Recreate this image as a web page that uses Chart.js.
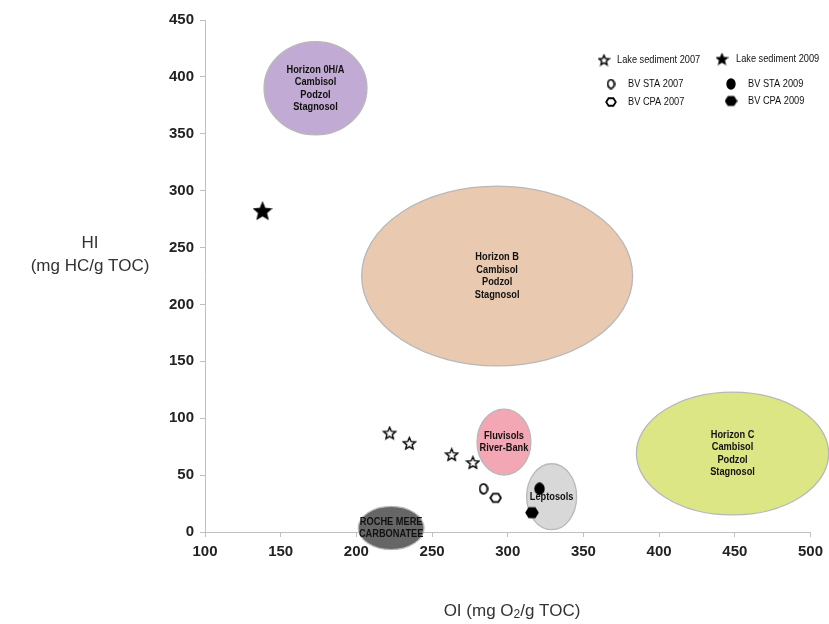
<!DOCTYPE html>
<html>
<head>
<meta charset="utf-8">
<script src="https://cdn.jsdelivr.net/npm/chart.js@4.4.1/dist/chart.umd.min.js"></script>
<style>
  html, body { margin: 0; padding: 0; background: #fff; }
  #wrap { width: 829px; height: 624px; }
</style>
</head>
<body>
<div id="wrap"><canvas id="chart" width="829" height="624"></canvas></div>
<script>
// tick values
const xTicks = [100, 150, 200, 250, 300, 350, 400, 450, 500];
const yTicks = [0, 50, 100, 150, 200, 250, 300, 350, 400, 450];

// samples (OI, HI)
const lakeSed2007 = [[222, 87], [235, 78], [263, 68], [277, 61]];
const lakeSed2009 = [[138, 282]];
const bvSta2007 = [[284, 38]];
const bvCpa2007 = [[292, 30]];
const bvSta2009 = [[321, 38]];
const bvCpa2009 = [[316, 17]];

// reference zones: centre and half-widths in data units
const zoneLabels = [
  ["Horizon B", "Cambisol", "Podzol", "Stagnosol"],
  ["Horizon 0H/A", "Cambisol", "Podzol", "Stagnosol"],
  ["Horizon C", "Cambisol", "Podzol", "Stagnosol"],
  ["Fluvisols", "River-Bank"],
  ["Leptosols"],
  ["ROCHE MERE", "CARBONATEE"]
];
const zoneCx = [293, 173, 448.5, 297.5, 329, 223];
const zoneCy = [225, 390, 69, 79, 31, 3.5];
const zoneRx = [89.5, 34, 63.5, 17.8, 16.5, 21.7];
const zoneRy = [79, 41, 54, 29, 29, 19];
const zoneFill = ["#e9c9b0", "#c1aad3", "#dde685", "#f3a6b3", "#d8d8d8", "#666666"];

const legendNames = ["Lake sediment 2007", "Lake sediment 2009", "BV STA 2007", "BV STA 2009", "BV CPA 2007", "BV CPA 2009"];

function toPts(arr) {
  return arr.map((p) => ({ x: p[0], y: p[1] }));
}

// marker images
function starImg(filled, size) {
  const c = document.createElement("canvas");
  c.width = size; c.height = size;
  const g = c.getContext("2d");
  const r = size / 2 - 1.2, ri = r * 0.45, cx = size / 2, cy = size / 2 + 0.5;
  g.beginPath();
  for (let i = 0; i < 10; i++) {
    const rr = i % 2 === 0 ? r : ri;
    const a = -Math.PI / 2 + i * Math.PI / 5;
    g.lineTo(cx + rr * Math.cos(a), cy + rr * Math.sin(a));
  }
  g.closePath();
  g.fillStyle = filled ? "#000" : "#fff";
  g.fill();
  g.lineWidth = 1.4;
  g.strokeStyle = "#000";
  g.lineJoin = "miter";
  g.stroke();
  return c;
}
function ovalImg(filled, w, h) {
  const c = document.createElement("canvas");
  c.width = w; c.height = h;
  const g = c.getContext("2d");
  g.beginPath();
  g.ellipse(w / 2, h / 2, w / 2 - 1.2, h / 2 - 1.2, 0, 0, Math.PI * 2);
  g.fillStyle = filled ? "#000" : "#fff";
  g.fill();
  g.lineWidth = 1.8;
  g.strokeStyle = "#000";
  g.stroke();
  return c;
}
function hexImg(filled, size) {
  const c = document.createElement("canvas");
  c.width = size; c.height = size;
  const g = c.getContext("2d");
  const r = size / 2 - 1.2;
  g.beginPath();
  for (let i = 0; i < 6; i++) {
    const a = i * Math.PI / 3;
    g.lineTo(size / 2 + r * Math.cos(a), size / 2 + r * 0.9 * Math.sin(a));
  }
  g.closePath();
  g.fillStyle = filled ? "#000" : "#fff";
  g.fill();
  g.lineWidth = 1.8;
  g.strokeStyle = "#000";
  g.stroke();
  return c;
}

const imgStarOpen = starImg(false, 15);
const imgStarFull = starImg(true, 20);
const imgOvalOpen = ovalImg(false, 10, 12);
const imgOvalFull = ovalImg(true, 11, 13);
const imgHexOpen = hexImg(false, 13);
const imgHexFull = hexImg(true, 14);

const sans = "Arial, 'Liberation Sans', sans-serif";

// narrow text: normal font squeezed horizontally
function narrowText(ctx, text, x, y, squeeze) {
  ctx.save();
  ctx.translate(x, y);
  ctx.scale(squeeze, 1);
  ctx.fillText(text, 0, 0);
  ctx.restore();
}

// draws the ellipses behind the points
const zonesPlugin = {
  id: "zones",
  beforeDatasetsDraw(chart) {
    const { ctx, scales: { x, y } } = chart;
    ctx.save();
    for (let i = 0; i < zoneCx.length; i++) {
      const px = x.getPixelForValue(zoneCx[i]);
      const py = y.getPixelForValue(zoneCy[i]);
      const rx = Math.abs(x.getPixelForValue(zoneCx[i] + zoneRx[i]) - px);
      const ry = Math.abs(y.getPixelForValue(zoneCy[i] + zoneRy[i]) - py);
      ctx.beginPath();
      ctx.ellipse(px, py, rx, ry, 0, 0, Math.PI * 2);
      ctx.fillStyle = zoneFill[i];
      ctx.fill();
      ctx.lineWidth = 1.3;
      ctx.strokeStyle = "#b8b8b8";
      ctx.stroke();
      const lines = zoneLabels[i];
      const lh = 12.5;
      ctx.fillStyle = "#111";
      ctx.font = "bold 11px " + sans;
      ctx.textAlign = "center";
      ctx.textBaseline = "middle";
      const top = py - (lines.length - 1) * lh / 2;
      lines.forEach((t, k) => narrowText(ctx, t, px, top + k * lh, 0.84));
    }
    ctx.restore();
  }
};

// axis titles and legend
const decorPlugin = {
  id: "decor",
  afterDraw(chart) {
    const ctx = chart.ctx;
    ctx.save();
    ctx.fillStyle = "#333";
    ctx.font = "17px " + sans;
    ctx.textAlign = "center";
    ctx.textBaseline = "middle";
    ctx.fillText("HI", 90, 243);
    ctx.fillText("(mg HC/g TOC)", 90, 266);

    // x title with subscript
    const a = "OI (mg O", b = "2", c = "/g TOC)";
    ctx.font = "17px " + sans;
    const wa = ctx.measureText(a).width, wc = ctx.measureText(c).width;
    ctx.font = "12px " + sans;
    const wb = ctx.measureText(b).width;
    const sx = 512 - (wa + wb + wc) / 2;
    ctx.textAlign = "left";
    ctx.font = "17px " + sans;
    ctx.fillText(a, sx, 611);
    ctx.font = "12px " + sans;
    ctx.fillText(b, sx + wa, 615);
    ctx.font = "17px " + sans;
    ctx.fillText(c, sx + wa + wb, 611);

    // legend
    const marks = [
      starImg(false, 13), starImg(true, 13),
      ovalImg(false, 9, 11), ovalImg(true, 10, 12),
      hexImg(false, 12), hexImg(true, 13)
    ];
    const mx = [604, 722, 611, 731, 611, 731];
    const my = [60, 59, 84, 84, 102, 101];
    const tx = [617, 736, 628, 748, 628, 748];
    ctx.font = "11px " + sans;
    ctx.fillStyle = "#111";
    for (let i = 0; i < legendNames.length; i++) {
      const m = marks[i];
      ctx.drawImage(m, mx[i] - m.width / 2, my[i] - m.height / 2);
      narrowText(ctx, legendNames[i], tx[i], my[i], 0.84);
    }
    ctx.restore();
  }
};

function series(label, data, img) {
  return {
    label: label,
    data: toPts(data),
    pointStyle: img,
    pointRadius: 8,
    pointHoverRadius: 8,
    showLine: false
  };
}

const axisColor = "#c0c0c0";
const tickFont = { family: sans, size: 15, weight: "bold" };

new Chart(document.getElementById("chart"), {
  type: "scatter",
  data: {
    datasets: [
      series("Lake sediment 2007", lakeSed2007, imgStarOpen),
      series("Lake sediment 2009", lakeSed2009, imgStarFull),
      series("BV STA 2007", bvSta2007, imgOvalOpen),
      series("BV CPA 2007", bvCpa2007, imgHexOpen),
      series("BV STA 2009", bvSta2009, imgOvalFull),
      series("BV CPA 2009", bvCpa2009, imgHexFull)
    ]
  },
  options: {
    responsive: false,
    animation: false,
    layout: { padding: { left: 0, right: 17, top: 20, bottom: 0 } },
    plugins: {
      legend: { display: false },
      tooltip: { enabled: false }
    },
    scales: {
      x: {
        type: "linear",
        min: xTicks[0],
        max: xTicks[xTicks.length - 1],
        afterBuildTicks: (s) => { s.ticks = xTicks.map((v) => ({ value: v })); },
        afterFit: (s) => { s.height = 92; },
        grid: { drawOnChartArea: false, drawTicks: true, tickLength: 5, color: axisColor },
        border: { display: true, color: axisColor, width: 1 },
        ticks: { color: "#222", font: tickFont, padding: 6, maxRotation: 0 }
      },
      y: {
        type: "linear",
        min: yTicks[0],
        max: yTicks[yTicks.length - 1],
        afterBuildTicks: (s) => { s.ticks = yTicks.map((v) => ({ value: v })); },
        afterFit: (s) => { s.width = 205; },
        grid: { drawOnChartArea: false, drawTicks: true, tickLength: 5, color: axisColor },
        border: { display: true, color: axisColor, width: 1 },
        ticks: { color: "#222", font: tickFont, padding: 6 }
      }
    }
  },
  plugins: [zonesPlugin, decorPlugin]
});
</script>
</body>
</html>
